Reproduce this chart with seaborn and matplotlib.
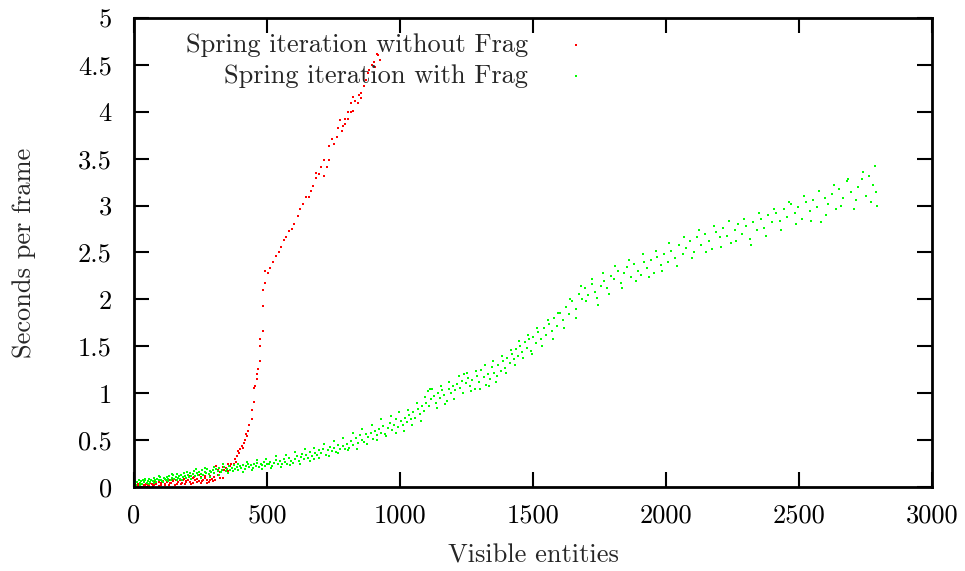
import matplotlib
matplotlib.use("Agg")
from matplotlib import pyplot as plt
import seaborn as sns
import pandas as pd

# Spring iteration without Frag
red_x = [5, 10, 12, 20, 28, 36, 40, 44, 52, 60, 68, 70, 76, 84, 92, 100, 100, 108, 116, 124,
         130, 132, 140, 148, 156, 160, 164, 172, 180, 188, 190, 196, 204, 212, 220, 220, 228, 236, 244, 250,
         252, 260, 268, 276, 280, 284, 292, 300, 308, 316, 324, 333, 340, 346, 352, 360, 375, 380, 383, 388,
         392, 395, 400, 405, 410, 414, 418, 420, 424, 428, 433, 444, 444, 452, 452, 455, 462, 462, 465, 474,
         474, 474, 484, 484, 484, 486, 492, 492, 504, 512, 524, 534, 544, 553, 564, 573, 584, 594, 603, 615,
         624, 634, 646, 659, 665, 674, 684, 684, 694, 703, 713, 713, 724, 733, 734, 744, 753, 763, 765, 774,
         782, 784, 794, 794, 803, 805, 814, 816, 824, 824, 832, 841, 845, 853, 853, 866, 872, 878, 885, 895,
         903, 907, 913, 916, 925]
red_y = [0.01, 0.00, 0.02, 0.01, 0.03, 0.02, 0.01, 0.03, 0.02, 0.04, 0.03, 0.01, 0.05, 0.03, 0.05, 0.04, 0.02, 0.06, 0.03, 0.05,
         0.02, 0.07, 0.04, 0.06, 0.08, 0.03, 0.05, 0.07, 0.04, 0.09, 0.03, 0.06, 0.08, 0.05, 0.10, 0.04, 0.07, 0.09, 0.06, 0.04,
         0.11, 0.08, 0.10, 0.07, 0.05, 0.12, 0.09, 0.11, 0.22, 0.13, 0.10, 0.10, 0.18, 0.20, 0.25, 0.22, 0.25, 0.30, 0.27, 0.33,
         0.38, 0.36, 0.41, 0.44, 0.42, 0.47, 0.50, 0.57, 0.54, 0.60, 0.66, 0.72, 0.82, 0.91, 1.06, 1.08, 1.15, 1.20, 1.26, 1.34,
         1.50, 1.58, 1.66, 1.93, 2.10, 2.10, 2.17, 2.30, 2.28, 2.33, 2.40, 2.46, 2.50, 2.56, 2.63, 2.67, 2.73, 2.75, 2.80, 2.89,
         2.96, 3.02, 3.09, 3.09, 3.16, 3.21, 3.29, 3.35, 3.34, 3.41, 3.32, 3.49, 3.41, 3.49, 3.63, 3.71, 3.66, 3.73, 3.83, 3.91,
         3.80, 3.85, 3.87, 3.92, 3.92, 4.00, 4.09, 4.00, 4.01, 4.16, 4.11, 4.09, 4.18, 4.15, 4.20, 4.28, 4.34, 4.41, 4.45, 4.50,
         4.53, 4.48, 4.62, 4.61, 4.55]
# more of the dense low band under the green points
red_x_low = [15, 35, 55, 75, 95, 115, 135, 155, 175, 195, 215, 235, 255, 275, 295,
             145, 165, 185, 205, 225, 245, 265, 285, 305, 315, 325, 335, 355, 365, 370]
red_y_low = [0.03, 0.00, 0.01, 0.02, 0.01, 0.02, 0.04, 0.02, 0.03, 0.05, 0.03, 0.05, 0.06, 0.04, 0.06,
             0.09, 0.10, 0.07, 0.12, 0.11, 0.13, 0.12, 0.08, 0.08, 0.18, 0.16, 0.21, 0.17, 0.24, 0.20]

# Spring iteration with Frag
green_x = [2, 5, 9, 13, 17, 21, 26, 30, 34, 38, 43, 47, 52, 56, 61, 65, 70, 74, 79, 83, 88, 92, 97,
           102, 106, 111, 115, 120, 124, 129, 133, 138, 142, 147, 151, 156, 160, 165, 169, 174, 178, 183, 187, 192, 196,
           201, 206, 211, 216, 221, 226, 231, 236, 241, 246, 251, 256, 261, 266, 271, 276, 281, 286, 291, 296,
           302, 308, 314, 320, 326, 332, 338, 344, 350, 356, 362, 368, 374, 380, 386, 392, 398,
           404, 410, 416, 422, 428, 434, 440, 446, 452, 458, 464, 470, 476, 482, 488, 494, 499,
           506, 513, 520, 527, 534, 541, 548, 555, 562, 569, 576, 583, 590, 597,
           605, 612, 619, 626, 633, 640, 647, 654, 661, 668, 675, 682, 689, 696,
           704, 712, 720, 728, 736, 744, 752, 760, 768, 776, 784, 792,
           801, 809, 817, 825, 833, 841, 849, 857, 865, 873, 881, 889, 897,
           905, 913, 921, 929, 937, 945, 953, 961, 969, 977, 985, 993,
           1002, 1010, 1018, 1026, 1034, 1042, 1050, 1058, 1066, 1074, 1082, 1090, 1098, 1106, 1112, 1118, 1126,
           1134, 1142, 1150, 1158, 1166, 1175, 1183, 1191, 1199,
           1208, 1216, 1224, 1232, 1240, 1248, 1256, 1264, 1272, 1280, 1290, 1298, 1306, 1314, 1322, 1330, 1338,
           1346, 1354, 1362, 1370, 1378, 1386, 1394,
           1404, 1412, 1420, 1428, 1436, 1444, 1452, 1460, 1468, 1476, 1484, 1492, 1500, 1510, 1520, 1530, 1540,
           1550, 1560, 1570, 1580, 1590,
           1600, 1612, 1624, 1636, 1648, 1660, 1672, 1684, 1696, 1708, 1720, 1732, 1744, 1756, 1768, 1780, 1792,
           1805, 1818, 1830, 1842, 1855, 1868, 1880, 1893, 1905, 1918, 1930, 1943, 1955, 1968, 1980, 1993,
           2006, 2020, 2034, 2048, 2062, 2076, 2090, 2104, 2118, 2132, 2146, 2160, 2174, 2188,
           2202, 2216, 2230, 2244, 2258, 2272, 2286, 2300, 2314, 2328, 2342, 2356, 2370, 2384,
           2400, 2414, 2428, 2442, 2456, 2470, 2484, 2498, 2512, 2526, 2540, 2554, 2568, 2582, 2596,
           2610, 2624, 2638, 2652, 2666, 2680, 2694, 2708, 2722, 2736, 2750, 2764, 2778, 2786, 2790, 2795]
green_y = [0.03, 0.06, 0.02, 0.05, 0.07, 0.04, 0.06, 0.03, 0.08, 0.05, 0.07, 0.04, 0.06, 0.09, 0.05, 0.08, 0.06, 0.10, 0.07, 0.05, 0.09, 0.07, 0.11,
           0.08, 0.06, 0.10, 0.09, 0.07, 0.11, 0.09, 0.12, 0.08, 0.10, 0.13, 0.09, 0.11, 0.14, 0.10, 0.12, 0.09, 0.13, 0.11, 0.15, 0.12, 0.10,
           0.13, 0.11, 0.15, 0.12, 0.14, 0.17, 0.12, 0.15, 0.13, 0.16, 0.14, 0.18, 0.13, 0.16, 0.15, 0.19, 0.14, 0.17, 0.16, 0.18,
           0.15, 0.19, 0.17, 0.20, 0.16, 0.18, 0.21, 0.17, 0.19, 0.22, 0.18, 0.20, 0.23, 0.19, 0.21, 0.18, 0.22,
           0.20, 0.23, 0.19, 0.22, 0.25, 0.21, 0.23, 0.20, 0.24, 0.22, 0.26, 0.21, 0.24, 0.23, 0.27, 0.22, 0.25,
           0.24, 0.27, 0.22, 0.26, 0.29, 0.25, 0.28, 0.24, 0.30, 0.27, 0.25, 0.31, 0.28, 0.26,
           0.30, 0.33, 0.28, 0.32, 0.35, 0.30, 0.34, 0.31, 0.37, 0.33, 0.30, 0.36, 0.34, 0.39,
           0.36, 0.40, 0.34, 0.39, 0.43, 0.38, 0.42, 0.37, 0.45, 0.41, 0.44, 0.40,
           0.46, 0.42, 0.49, 0.45, 0.52, 0.47, 0.55, 0.50, 0.48, 0.56, 0.53, 0.58, 0.51,
           0.60, 0.55, 0.62, 0.58, 0.65, 0.57, 0.63, 0.68, 0.61, 0.66, 0.72, 0.64,
           0.70, 0.66, 0.74, 0.69, 0.77, 0.72, 0.80, 0.74, 0.83, 0.78, 0.86, 0.81, 0.90, 1.02, 1.05, 0.94, 0.97,
           0.90, 1.00, 0.95, 1.03, 0.98, 0.92, 1.05, 1.00, 1.08,
           1.03, 1.10, 1.06, 1.13, 1.20, 1.11, 1.16, 1.08, 1.14, 1.05, 1.18, 1.12, 1.25, 1.17, 1.09, 1.21, 1.15,
           1.28, 1.22, 1.12, 1.30, 1.24, 1.34, 1.27,
           1.38, 1.32, 1.42, 1.36, 1.47, 1.40, 1.50, 1.44, 1.55, 1.48, 1.58, 1.45, 1.60, 1.54, 1.65, 1.58, 1.70,
           1.62, 1.74, 1.66, 1.80, 1.72,
           1.85, 1.78, 1.92, 1.84, 1.98, 1.90, 2.06, 2.00, 2.12, 2.05, 2.16, 2.08, 1.94, 2.14, 2.20, 2.12, 2.25,
           2.22, 2.30, 2.18, 2.28, 2.35, 2.24, 2.38, 2.30, 2.26, 2.40, 2.33, 2.42, 2.28, 2.45, 2.37, 2.48,
           2.40, 2.52, 2.44, 2.58, 2.48, 2.55, 2.62, 2.50, 2.66, 2.58, 2.70, 2.62, 2.54, 2.72,
           2.66, 2.76, 2.68, 2.60, 2.74, 2.80, 2.70, 2.78, 2.64, 2.82, 2.74, 2.86, 2.76, 2.90,
           2.82, 2.92, 2.84, 2.96, 2.88, 3.02, 2.92, 2.98, 2.86, 3.04, 2.94, 3.06, 2.98, 2.82, 3.08,
           3.02, 3.12, 2.96, 3.18, 3.08, 3.26, 3.14, 2.96, 3.20, 3.28, 3.10, 3.32, 3.22, 3.42, 3.15, 3.00]
# outer points of the green cloud
green_x_edge = [7, 24, 40, 58, 76, 94, 110, 126, 144, 162, 180, 198, 214, 232, 250, 268, 285, 300, 318, 336,
                354, 372, 390, 408, 426, 444, 462, 480, 498, 516, 534, 552, 570, 588, 606, 624, 642, 660, 678, 696,
                714, 732, 750, 768, 786, 804, 822, 840, 858, 876, 894, 912, 930, 948, 966, 984, 998,
                1014, 1030, 1046, 1062, 1078, 1094, 1110, 1122, 1138, 1154, 1170, 1186, 1202, 1220, 1236, 1252, 1268,
                1286, 1302, 1318, 1334, 1350, 1366, 1382, 1398, 1416, 1432, 1448, 1464, 1480, 1496, 1515, 1535, 1555,
                1575, 1595, 1618, 1640, 1660, 1680, 1700, 1722, 1742, 1762, 1784, 1810, 1836, 1862, 1886, 1912, 1936,
                1962, 1986, 2012, 2040, 2068, 2096, 2124, 2152, 2180, 2208, 2236, 2264, 2292, 2320, 2348, 2376, 2406,
                2434, 2462, 2490, 2518, 2546, 2574, 2602, 2630, 2658, 2686, 2714, 2742, 2770]
green_y_edge = [0.01, 0.02, 0.09, 0.03, 0.04, 0.12, 0.05, 0.06, 0.14, 0.07, 0.08, 0.16, 0.09, 0.19, 0.10, 0.20, 0.11, 0.21, 0.13, 0.24,
                0.15, 0.17, 0.25, 0.16, 0.27, 0.18, 0.29, 0.19, 0.30, 0.20, 0.33, 0.21, 0.34, 0.23, 0.37, 0.25, 0.40, 0.28, 0.42, 0.31,
                0.46, 0.33, 0.49, 0.36, 0.52, 0.39, 0.58, 0.41, 0.62, 0.46, 0.66, 0.50, 0.72, 0.54, 0.76, 0.58, 0.80,
                0.60, 0.82, 0.66, 0.90, 0.70, 0.96, 0.86, 1.04, 0.84, 1.08, 0.88, 1.12, 0.94, 1.18, 1.00, 1.22, 1.02,
                1.24, 1.04, 1.30, 1.08, 1.34, 1.18, 1.40, 1.22, 1.46, 1.30, 1.56, 1.38, 1.62, 1.42, 1.70, 1.50, 1.78,
                1.58, 1.86, 1.70, 2.00, 1.80, 2.14, 1.98, 2.22, 2.02, 2.28, 2.06, 2.36, 2.12, 2.42, 2.20, 2.48, 2.24,
                2.52, 2.30, 2.60, 2.36, 2.66, 2.44, 2.74, 2.50, 2.78, 2.56, 2.84, 2.62, 2.86, 2.58, 2.92, 2.68, 2.96,
                2.74, 3.04, 2.80, 3.10, 2.84, 3.16, 2.90, 3.22, 3.00, 3.28, 3.06, 3.36, 3.04]

labels = ["Spring iteration without Frag", "Spring iteration with Frag"]
x_ticks = [0, 500, 1000, 1500, 2000, 2500, 3000]
y_ticks = [0, 0.5, 1, 1.5, 2, 2.5, 3, 3.5, 4, 4.5, 5]
y_tick_labels = ["0", "0.5", "1", "1.5", "2", "2.5", "3", "3.5", "4", "4.5", "5"]

df_red = pd.DataFrame({"x": red_x + red_x_low, "y": red_y + red_y_low})
df_green = pd.DataFrame({"x": green_x + green_x_edge, "y": green_y + green_y_edge})

sns.set_style("ticks")
plt.rcParams["font.family"] = "serif"
plt.rcParams["font.serif"] = ["cmr10", "DejaVu Serif"]
plt.rcParams["axes.formatter.use_mathtext"] = True

fig = plt.figure(figsize=(9.65, 5.71), dpi=100)
ax = fig.add_axes([0.1389, 0.1471, 0.8269, 0.8214])

sns.scatterplot(data=df_red, x="x", y="y", color="#ff0000", marker="s", s=4,
                linewidth=0, ax=ax, label=labels[0])
sns.scatterplot(data=df_green, x="x", y="y", color="#00ff00", marker="s", s=4,
                linewidth=0, ax=ax, label=labels[1])

ax.set_xlim(0, 3000)
ax.set_ylim(0, 5)
ax.set_xticks(x_ticks)
ax.set_xticklabels([str(t) for t in x_ticks])
ax.set_yticks(y_ticks)
ax.set_yticklabels(y_tick_labels)
ax.tick_params(direction="in", top=True, right=True, length=11, width=1.5,
               labelsize=19, colors="black")
ax.tick_params(axis="x", pad=12)
ax.tick_params(axis="y", pad=16)
for s in ax.spines.values():
    s.set_linewidth(2)
    s.set_color("black")

ax.set_xlabel("Visible entities", fontsize=19, labelpad=12)
ax.set_ylabel("Seconds per frame", fontsize=19, labelpad=30)

ax.legend(loc="upper right", bbox_to_anchor=(0.57, 0.968), frameon=False,
          markerfirst=False, fontsize=19, borderpad=0, borderaxespad=0,
          labelspacing=0.3, handletextpad=1.3, handlelength=1.0, markerscale=1)

fig.savefig("out.png", dpi=100)
